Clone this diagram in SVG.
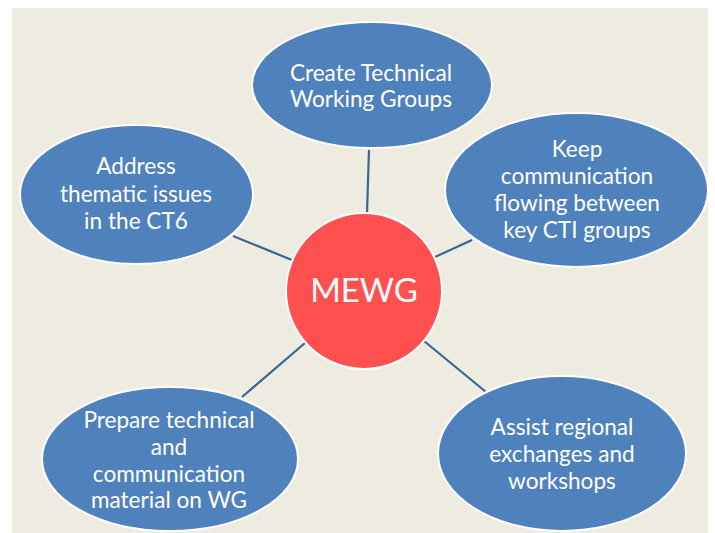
<svg xmlns="http://www.w3.org/2000/svg" width="715" height="533" viewBox="0 0 715 533">
  <style>
    .node { fill: #4F81BD; stroke: #FFFFFF; stroke-width: 2; }
    .hub { fill: #FF5050; stroke: #FFFFFF; stroke-width: 2; }
    .lbl { font-family: Lato, "Liberation Sans", sans-serif; font-size: 22.6px; fill: #FFFFFF; text-anchor: middle; }
    .hubl { font-family: Lato, "Liberation Sans", sans-serif; font-size: 33px; fill: #FFFFFF; text-anchor: middle; }
    .conn line { stroke: #3A6594; stroke-width: 2.2; }
  </style>
  <rect x="0" y="0" width="715" height="533" fill="#FFFFFF"/>
  <rect x="12" y="8" width="696" height="525" fill="#EEECE1"/>
  <g id="connectors" class="conn">
    <line x1="369" y1="150" x2="367" y2="213"/>
    <line x1="233" y1="236" x2="292" y2="260"/>
    <line x1="435" y1="257" x2="472" y2="240"/>
    <line x1="305" y1="343" x2="242" y2="397"/>
    <line x1="424" y1="341" x2="486" y2="392"/>
  </g>
  <g id="node-top">
    <ellipse class="node" cx="372" cy="85" rx="120" ry="63"/>
    <text class="lbl" x="371" y="81">Create Technical</text>
    <text class="lbl" x="371" y="107">Working Groups</text>
  </g>
  <g id="node-left">
    <ellipse class="node" cx="136.5" cy="194.5" rx="116.5" ry="69.5"/>
    <text class="lbl" x="136" y="174">Address</text>
    <text class="lbl" x="136" y="202">thematic issues</text>
    <text class="lbl" x="136" y="229">in the CT6</text>
  </g>
  <g id="node-right">
    <ellipse class="node" cx="576.5" cy="190" rx="131.5" ry="77"/>
    <text class="lbl" x="577" y="157">Keep</text>
    <text class="lbl" x="577" y="184">communication</text>
    <text class="lbl" x="577" y="211">flowing between</text>
    <text class="lbl" x="577" y="238">key CTI groups</text>
  </g>
  <g id="node-bottom-left">
    <ellipse class="node" cx="170" cy="459" rx="128" ry="72"/>
    <text class="lbl" x="169" y="428">Prepare technical</text>
    <text class="lbl" x="169" y="455">and</text>
    <text class="lbl" x="169" y="482">communication</text>
    <text class="lbl" x="169" y="508">material on WG</text>
  </g>
  <g id="node-bottom-right">
    <ellipse class="node" cx="562" cy="453.5" rx="124" ry="77.5"/>
    <text class="lbl" x="562" y="435">Assist regional</text>
    <text class="lbl" x="562" y="462">exchanges and</text>
    <text class="lbl" x="562" y="489">workshops</text>
  </g>
  <g id="node-center">
    <circle class="hub" cx="364" cy="291" r="78"/>
    <text class="hubl" x="364" y="302">MEWG</text>
  </g>
</svg>
